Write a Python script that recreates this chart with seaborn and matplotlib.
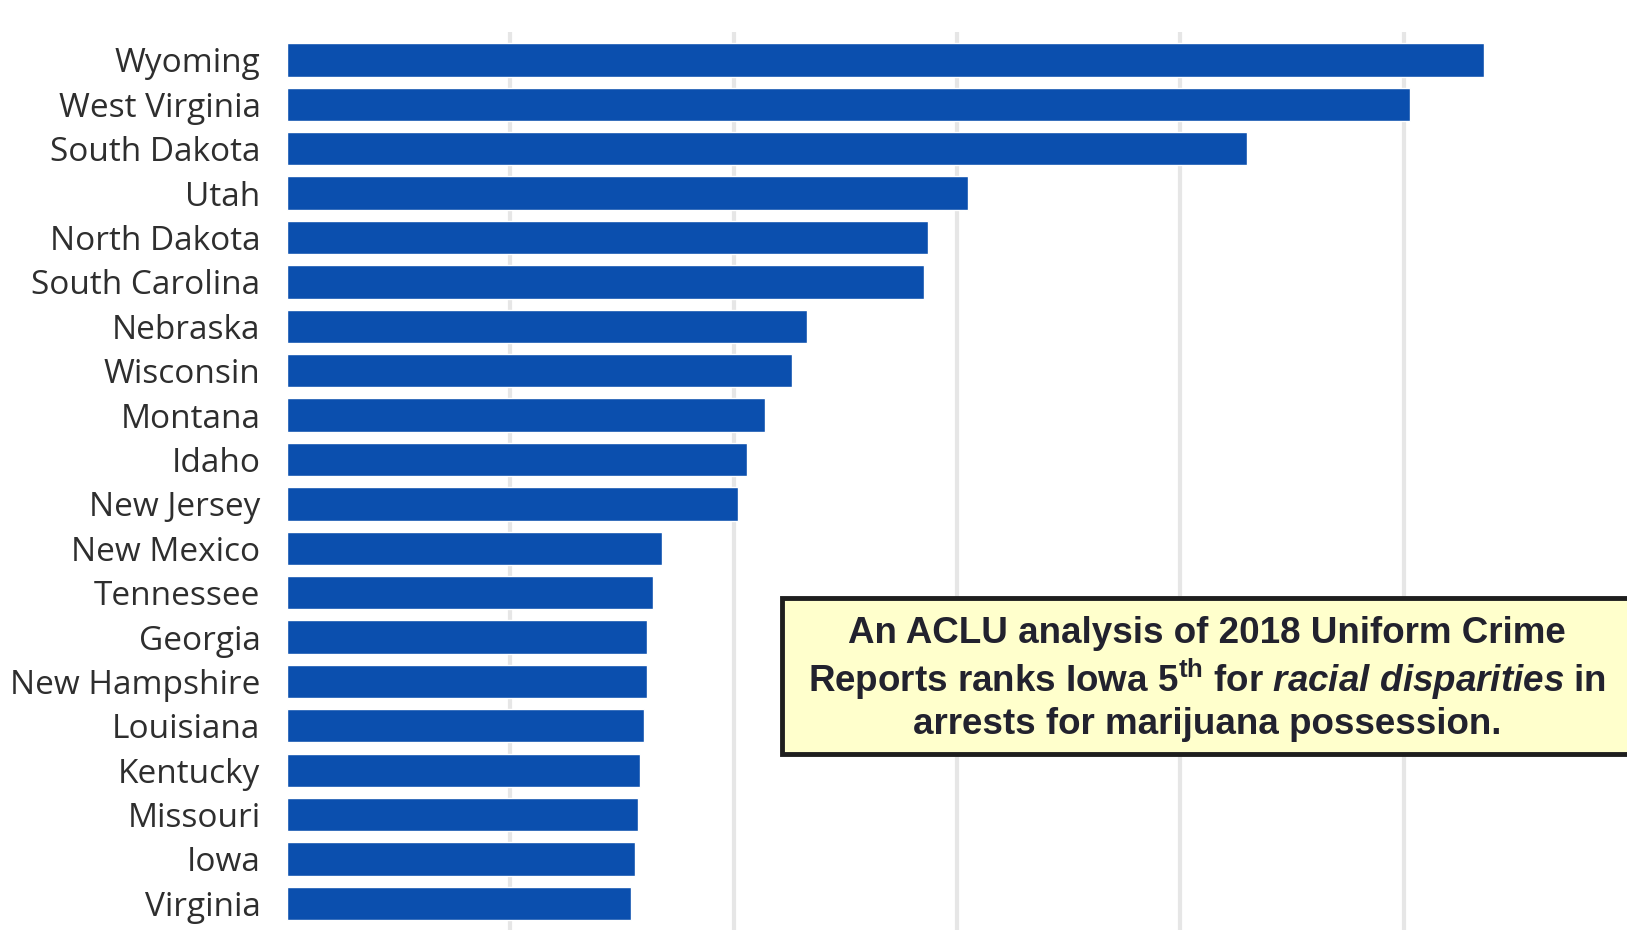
import seaborn as sns
import pandas as pd
import matplotlib.pyplot as plt
from matplotlib.patches import Rectangle

# States, top to bottom
states = ["Wyoming", "West Virginia", "South Dakota", "Utah", "North Dakota",
          "South Carolina", "Nebraska", "Wisconsin", "Montana", "Idaho",
          "New Jersey", "New Mexico", "Tennessee", "Georgia", "New Hampshire",
          "Louisiana", "Kentucky", "Missouri", "Iowa", "Virginia"]

# Bar lengths (one gridline step = 100)
values = [536, 503, 430, 305, 287, 285, 233, 226, 214, 206,
          202, 168, 164, 161, 161, 160, 158, 157, 156, 154]

df = pd.DataFrame({"state": states, "value": values})

sns.set_theme(style="white")
plt.rcParams["font.family"] = ["Open Sans", "DejaVu Sans"]

fig = plt.figure(figsize=(16.27, 9.30), dpi=100)
ax = fig.add_axes([287 / 1627, 0.0, 1 - 287 / 1627, 1 - 32 / 930])

sns.barplot(data=df, x="value", y="state", color="#0b4fae", saturation=1,
            width=0.75, ax=ax, zorder=3)

ax.set_xlim(0, 600)
ax.set_ylim(19.6, -0.63)
ax.set_xticks([100, 200, 300, 400, 500])
ax.xaxis.grid(True, color="#e6e6e6", linewidth=3, zorder=0)
ax.set_xticklabels([])
ax.tick_params(axis="x", length=0)
ax.tick_params(axis="y", length=0, pad=19, labelsize=24, labelcolor="#2e2e2e")
ax.set_xlabel("")
ax.set_ylabel("")
for s in ax.spines.values():
    s.set_visible(False)

# Yellow call-out box
box = Rectangle((782 / 1627, (930 - 754) / 930), 0.55, 156 / 930,
                transform=fig.transFigure, facecolor="#ffffcc",
                edgecolor="#1e1e1e", linewidth=3.5, zorder=5)
fig.patches.append(box)

plt.rcParams["mathtext.fontset"] = "custom"
plt.rcParams["mathtext.bf"] = "Liberation Sans:bold"
plt.rcParams["mathtext.it"] = "Liberation Sans:italic:bold"
plt.rcParams["mathtext.rm"] = "Liberation Sans:bold"

note = ("An ACLU analysis of 2018 Uniform Crime\n"
        r"Reports ranks Iowa 5$^{\mathbf{th}}$ for $\mathit{racial\ disparities}$ in" "\n"
        "arrests for marijuana possession.")
fig.text(1207 / 1627, (930 - 679) / 930, note, ha="center", va="center",
         fontsize=26.5, fontweight="bold", family="Liberation Sans",
         color="#22222e", linespacing=1.17, zorder=6)

fig.savefig("out.png", dpi=100)
